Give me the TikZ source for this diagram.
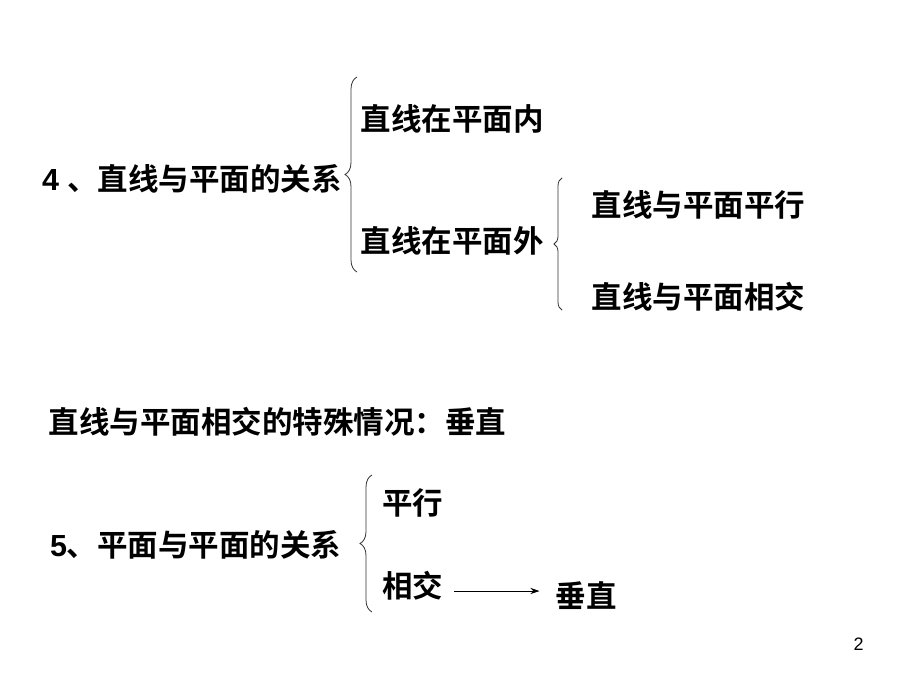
\documentclass[tikz,border=0pt]{standalone}
\usepackage{fontspec}
\setmainfont{Liberation Sans}
\newfontfamily\cjkb{Noto Sans CJK SC Bold}
\usetikzlibrary{decorations.pathreplacing,arrows.meta}
\tikzset{
  txt/.style={anchor=base west, inner sep=0pt, outer sep=0pt, font=\fontsize{30.5}{36}\selectfont\cjkb},
  brc/.style={decorate, decoration={brace, amplitude=#1}, line width=0.8pt, black!80},
  arr/.style={-{Stealth[length=9pt,width=6pt]}, line width=0.8pt}
}
\begin{document}
\begin{tikzpicture}[x=1pt,y=-1pt]
\useasboundingbox[fill=white] (0,0) rectangle (920,690);
% section 4
\node[txt] (l4) at (42,190) {{\bfseries\fontsize{30.5}{36}\selectfont\rmfamily 4 }、直线与平面的关系};
\node[txt] (a1) at (360.5,130) {直线在平面内};
\node[txt] (a2) at (360.5,252) {直线在平面外};
\node[txt] (b1) at (591.5,216) {直线与平面平行};
\node[txt] (b2) at (591.5,308) {直线与平面相交};
\draw[brc=12pt] (357,272) -- (357,77);
\draw[brc=8pt] (562,310) -- (562,178);
% special case
\node[txt] (sp) at (48.5,433) {直线与平面相交的特殊情况：垂直};
% section 5
\node[txt] (l5) at (50,556) {{\bfseries\fontsize{30.5}{36}\selectfont\rmfamily 5}、平面与平面的关系};
\node[txt] (c1) at (382,514) {平行};
\node[txt] (c2) at (382,597) {相交};
\node[txt] (cz) at (555.5,607) {垂直};
\draw[brc=12pt] (372,612) -- (372,475);
\coordinate (ay) at (0,591);
\draw[arr] ([xshift=11pt]c2.east |- ay) -- ([xshift=-16pt]cz.west |- ay);
% page number
\node[anchor=base west, inner sep=0pt, font=\fontsize{18}{20}\selectfont] (pg) at (853.5,650) {2};
\end{tikzpicture}
\end{document}
